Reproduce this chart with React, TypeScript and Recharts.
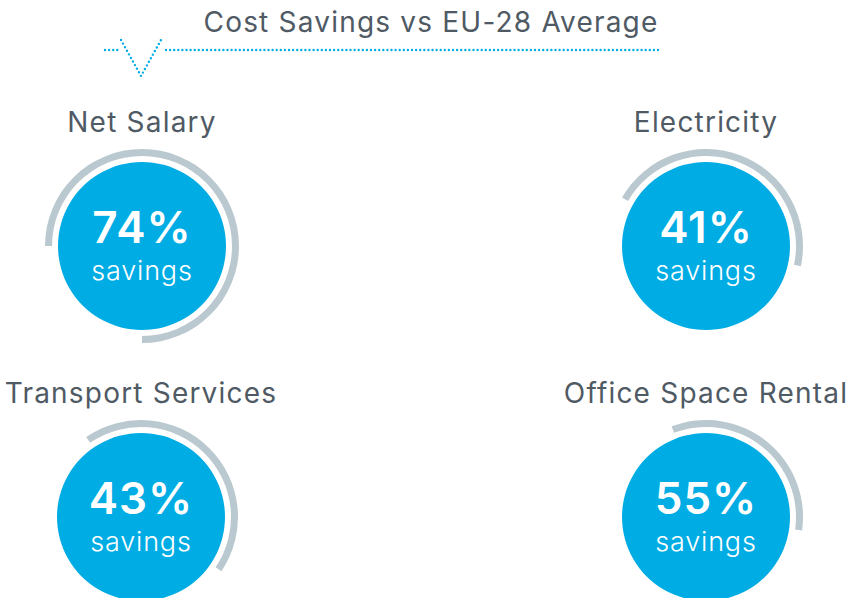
import { PieChart, Pie, Cell, Label } from 'recharts';

const categories = ['Net Salary', 'Electricity', 'Transport Services', 'Office Space Rental'];
const savings = [74, 41, 43, 55];
// share of the grey ring that is drawn
const ringShare = [75, 45, 44, 33];

const title = 'Cost Savings vs EU-28 Average';

// layout per gauge
const centers = [
  { x: 142, y: 246 },
  { x: 706, y: 246 },
  { x: 141, y: 517 },
  { x: 706, y: 517 },
];
const ringStart = [-90, -12, -34, -8];

const BLUE = '#00ace4';
const RING = '#bac8d0';
const TEXT = '#4f5a64';
const FONT = 'Inter, "Open Sans", sans-serif';

function discLabel(i: number) {
  return () => {
    const c = centers[i];
    return (
      <g fontFamily={FONT} textAnchor="middle">
        <text x={c.x} y={c.y - 3} fontSize={44} fontWeight={600} fill="#fff" letterSpacing={1}>
          {savings[i]}%
        </text>
        <text x={c.x} y={c.y + 34} fontSize={27} fontWeight={300} fill="#fff" letterSpacing={0.8}>
          savings
        </text>
      </g>
    );
  };
}

export default function App() {
  return (
    <div style={{ position: 'absolute', left: 0, top: 0, width: 851, height: 598, background: '#fff' }}>
      <PieChart width={851} height={598} margin={{ top: 0, right: 0, bottom: 0, left: 0 }}>
        <text x={431} y={32} textAnchor="middle" fontFamily={FONT} fontSize={28} fill={TEXT} letterSpacing={1.2}>
          {title}
        </text>
        <path
          d="M105 50 L121 50 M166 50 L658 50"
          stroke={BLUE}
          strokeWidth={2.4}
          strokeDasharray="0 4.1"
          strokeLinecap="round"
          fill="none"
        />
        <path
          d="M121 40 L141 76 L161 40"
          stroke={BLUE}
          strokeWidth={2.4}
          strokeDasharray="0 4.1"
          strokeLinecap="round"
          fill="none"
        />

        {categories.map((name, i) => {
          const c = centers[i];
          return (
            <text
              key={`name-${i}`}
              x={c.x}
              y={c.y - 114}
              textAnchor="middle"
              fontFamily={FONT}
              fontSize={28}
              letterSpacing={1.2}
              fill={TEXT}
            >
              {name}
            </text>
          );
        })}

        {categories.map((name, i) => {
          const c = centers[i];
          const ringData = [
            { name: 'filled', value: ringShare[i] },
            { name: 'empty', value: 100 - ringShare[i] },
          ];
          return [
            <Pie
              key={`ring-${i}`}
              data={ringData}
              dataKey="value"
              cx={c.x}
              cy={c.y}
              innerRadius={90}
              outerRadius={97}
              startAngle={ringStart[i]}
              endAngle={ringStart[i] + 360}
              stroke="none"
              isAnimationActive={false}
            >
              <Cell fill={RING} />
              <Cell fill="none" />
            </Pie>,
            <Pie
              key={`disc-${i}`}
              data={[{ name, value: savings[i] }]}
              dataKey="value"
              cx={c.x}
              cy={c.y}
              innerRadius={0}
              outerRadius={84}
              startAngle={90}
              endAngle={450}
              fill={BLUE}
              stroke="none"
              isAnimationActive={false}
            >
              <Label position="center" content={discLabel(i)} />
            </Pie>,
          ];
        })}
      </PieChart>
    </div>
  );
}
